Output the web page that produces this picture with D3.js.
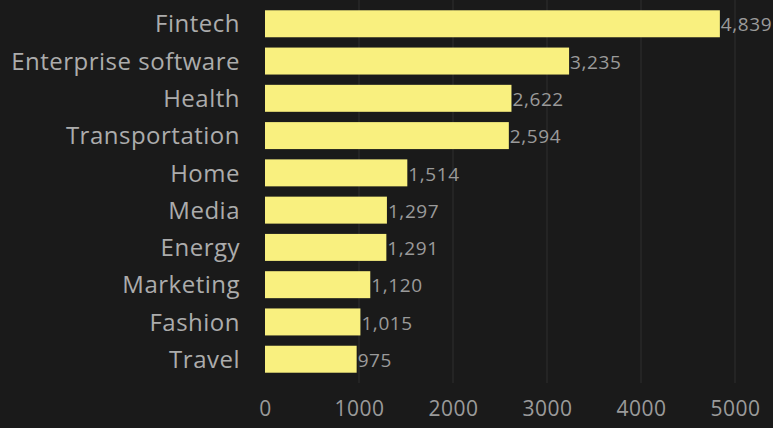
<!DOCTYPE html>
<html><head><meta charset="utf-8">
<script src="https://cdn.jsdelivr.net/npm/d3@7"></script>
<style>
html,body{margin:0;padding:0;background:#1a1a1a;}
svg{display:block;}
</style></head>
<body><svg id="chart" width="773" height="428"></svg>
<script>
const categories = ["Fintech","Enterprise software","Health","Transportation","Home","Media","Energy","Marketing","Fashion","Travel"];
const values = [4839,3235,2622,2594,1514,1297,1291,1120,1015,975];
const xTicks = [0,1000,2000,3000,4000,5000];

const svg = d3.select("#chart");
const W = 773, H = 428;
const FONT = "'Open Sans', sans-serif";
svg.append("rect").attr("width",W).attr("height",H).attr("fill","#1a1a1a");

const x = d3.scaleLinear().domain([0,5000]).range([265,735]);
const y = d3.scaleBand().domain(categories).range([0,383]).padding(0.276);

// gridlines
svg.append("g").selectAll("line").data(xTicks.slice(1)).join("line")
  .attr("x1",d=>x(d)).attr("x2",d=>x(d))
  .attr("y1",0).attr("y2",383)
  .attr("stroke","#2e2e2e").attr("stroke-width",1);

// bars
svg.append("g").selectAll("rect").data(values).join("rect")
  .attr("x",x(0)).attr("y",(d,i)=>y(categories[i]))
  .attr("width",d=>x(d)-x(0)).attr("height",y.bandwidth())
  .attr("fill","#f9f07f");

// value labels
svg.append("g").selectAll("text").data(values).join("text")
  .attr("x",d=>x(d)+1).attr("y",(d,i)=>y(categories[i])+y.bandwidth()/2+1)
  .attr("dy","0.35em")
  .attr("fill","#9a9a9a").attr("font-family",FONT).attr("font-size",19)
  .attr("letter-spacing",0.6)
  .text(d=>d3.format(",")(d));

// y axis
const yAxis = d3.axisLeft(y).tickSize(0).tickPadding(25);
const gy = svg.append("g").attr("transform",`translate(${x(0)},1)`).call(yAxis);
gy.select(".domain").remove();
gy.selectAll("text").attr("fill","#acacac").attr("font-family",FONT).attr("font-size",24)
  .attr("letter-spacing",0.5);

// x axis
const xAxis = d3.axisBottom(x).tickValues(xTicks).tickSize(0).tickPadding(0).tickFormat(d3.format("d"));
const gx = svg.append("g").attr("transform",`translate(0,401)`).call(xAxis);
gx.select(".domain").remove();
gx.selectAll("text").attr("fill","#9a9a9a").attr("font-family",FONT).attr("font-size",21)
  .attr("letter-spacing",0.5);
</script></body></html>
